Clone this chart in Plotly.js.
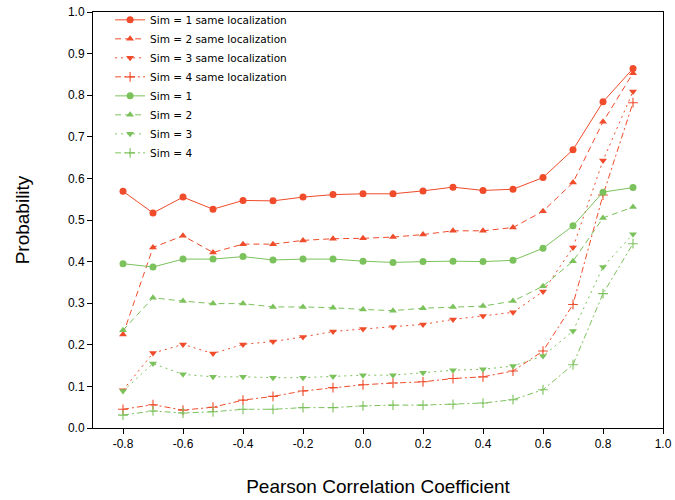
<!DOCTYPE html>
<html>
<head>
<meta charset="utf-8">
<script src="https://cdn.plot.ly/plotly-3.0.1.min.js"></script>
<style>html,body{margin:0;padding:0;background:#fff;}#chart{width:675px;height:500px;}</style>
</head>
<body>
<div id="chart"></div>
<script>
const corr = [-0.8,-0.7,-0.6,-0.5,-0.4,-0.3,-0.2,-0.1,0.0,0.1,0.2,0.3,0.4,0.5,0.6,0.7,0.8,0.9];

const sim1Same = [0.569,0.517,0.555,0.526,0.547,0.546,0.555,0.561,0.563,0.563,0.570,0.579,0.571,0.574,0.602,0.669,0.784,0.864];
const sim2Same = [0.225,0.434,0.462,0.422,0.442,0.442,0.451,0.455,0.456,0.459,0.465,0.474,0.474,0.482,0.521,0.590,0.736,0.853];
const sim3Same = [0.091,0.180,0.201,0.179,0.201,0.208,0.219,0.232,0.238,0.243,0.249,0.261,0.269,0.278,0.328,0.434,0.643,0.809];
const sim4Same = [0.045,0.056,0.043,0.050,0.067,0.076,0.089,0.097,0.104,0.108,0.111,0.119,0.123,0.137,0.185,0.297,0.560,0.782];

const sim1 = [0.395,0.387,0.406,0.406,0.412,0.404,0.406,0.406,0.401,0.398,0.400,0.401,0.400,0.403,0.432,0.486,0.567,0.578];
const sim2 = [0.235,0.313,0.305,0.299,0.299,0.291,0.291,0.289,0.285,0.282,0.288,0.291,0.293,0.305,0.341,0.401,0.505,0.531];
const sim3 = [0.089,0.155,0.129,0.123,0.123,0.121,0.121,0.124,0.127,0.127,0.133,0.139,0.141,0.149,0.173,0.233,0.387,0.466];
const sim4 = [0.031,0.041,0.036,0.039,0.045,0.045,0.049,0.049,0.053,0.055,0.055,0.057,0.060,0.068,0.092,0.152,0.323,0.443];

const seriesNames = ["Sim = 1 same localization","Sim = 2 same localization","Sim = 3 same localization","Sim = 4 same localization","Sim = 1","Sim = 2","Sim = 3","Sim = 4"];

const xTickVals = [-0.8,-0.6,-0.4,-0.2,0.0,0.2,0.4,0.6,0.8,1.0];
const xTickText = ["-0.8","-0.6","-0.4","-0.2","0.0","0.2","0.4","0.6","0.8","1.0"];
const yTickVals = [0.0,0.1,0.2,0.3,0.4,0.5,0.6,0.7,0.8,0.9,1.0];
const yTickText = ["0.0","0.1","0.2","0.3","0.4","0.5","0.6","0.7","0.8","0.9","1.0"];

const RED = "#f04b2a";
const GREEN = "#7cc25c";
const dashes = ["solid","6px,4px","2px,4px","6px,3px,2px,3px"];
const symbols = ["circle","triangle-up","triangle-down","cross-thin"];
const values = [sim1Same,sim2Same,sim3Same,sim4Same,sim1,sim2,sim3,sim4];

const traces = values.map((v,i)=>{
  const color = i < 4 ? RED : GREEN;
  const k = i % 4;
  const m = {symbol: symbols[k], size: 7, color: color,
             line: {width: k===3 ? 1.1 : 0, color: color}};
  return {x: corr, y: v, name: seriesNames[i], type: "scatter", mode: "lines+markers",
          line: {color: color, width: 1, dash: dashes[k]}, marker: m};
});

const layout = {
  width: 675, height: 500,
  margin: {l: 93, r: 12, t: 12, b: 72, autoexpand: false},
  paper_bgcolor: "#fff", plot_bgcolor: "#fff",
  font: {family: "Liberation Sans, Arial, sans-serif", color: "#000"},
  showlegend: true,
  legend: {x: 0.03, y: 1.016, xanchor: "left", yanchor: "top", bgcolor: "rgba(0,0,0,0)",
           font: {family: "DejaVu Sans, sans-serif", size: 10.5, color: "#000"}, tracegroupgap: 0, itemwidth: 30},
  xaxis: {range: [-0.9, 1.0], tickvals: xTickVals, ticktext: xTickText,
          ticks: "outside", ticklen: 5, tickcolor: "#000", showgrid: false, zeroline: false,
          showline: true, linecolor: "#000", linewidth: 1, mirror: true, automargin: false,
          tickfont: {size: 12, color: "#000"}, title: {text: "Pearson Correlation Coefficient", font: {size: 19}, standoff: 29}},
  yaxis: {range: [0, 1.0], tickvals: yTickVals, ticktext: yTickText,
          ticks: "outside", ticklen: 5, tickcolor: "#000", showgrid: false, zeroline: false,
          showline: true, linecolor: "#000", linewidth: 1, mirror: true, automargin: false,
          tickfont: {size: 12, color: "#000"}, title: {text: "Probability", font: {size: 19}, standoff: 33}}
};

Plotly.newPlot("chart", traces, layout, {displayModeBar: false, staticPlot: true});
</script>
</body>
</html>
